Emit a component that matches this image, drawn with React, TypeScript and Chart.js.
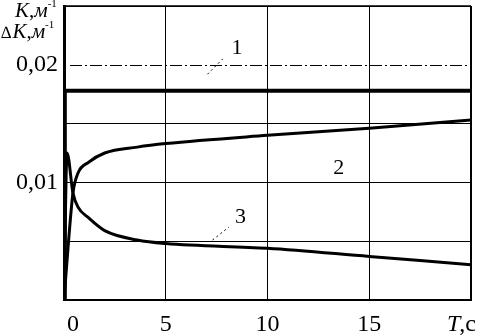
import React, { useEffect, useRef } from "react";
import { Chart, registerables } from "chart.js";

Chart.register(...registerables);

// Series 1: K (constant)
const t1 = [0, 0.04, 20];
const k1 = [0, 0.0178, 0.0178];
// Series 2: rising curve
const t2 = [0, 0.2, 0.44, 0.69, 1.2, 2.0, 3.6, 5, 10, 15, 20];
const k2 = [0, 0.0045, 0.0091, 0.0108, 0.0117, 0.0125, 0.013, 0.0133, 0.014, 0.0146, 0.0153];
// Series 3: falling curve
const t3 = [0, 0.15, 0.44, 0.69, 1.2, 2.0, 3.6, 5, 10, 15, 20];
const k3 = [0, 0.0125, 0.0091, 0.0079, 0.007, 0.0059, 0.0051, 0.0048, 0.0044, 0.0037, 0.003];

const xTickValues = [0, 5, 10, 15];
const xTickLabels = ["0", "5", "10", "15"];
const yTickValues = [0.01, 0.02];
const yTickLabels = ["0,01", "0,02"];

const curveLabels = ["1", "2", "3"];
const curveLabelT = [8.5, 13.5, 8.67];
const curveLabelK = [0.0214, 0.0112, 0.007];
const leaderT = [[7.05, 7.8], null, [7.3, 8.1]];
const leaderK = [[0.0192, 0.0205], null, [0.0051, 0.0062]];

const FONT = '"Liberation Serif", "Times New Roman", serif';

const near = (a: number, b: number) => Math.abs(a - b) < 1e-9;

const annoPlugin = {
  id: "anno",
  afterDraw(chart: any) {
    const { ctx, chartArea, scales } = chart;
    const x = scales.x;
    const y = scales.y;
    ctx.save();
    ctx.strokeStyle = "#000";
    ctx.fillStyle = "#000";
    // frame top and right
    ctx.lineWidth = 1.5;
    ctx.beginPath();
    ctx.moveTo(chartArea.left, chartArea.top);
    ctx.lineTo(chartArea.right, chartArea.top);
    ctx.stroke();
    ctx.lineWidth = 2;
    ctx.beginPath();
    ctx.moveTo(chartArea.right, chartArea.top);
    ctx.lineTo(chartArea.right, chartArea.bottom);
    ctx.stroke();
    // dashed 0.02 gridline
    const y02 = y.getPixelForValue(0.02);
    ctx.lineWidth = 1;
    ctx.setLineDash([12, 3, 2, 3]);
    ctx.beginPath();
    ctx.moveTo(chartArea.left + 6, Math.round(y02) + 0.5);
    ctx.lineTo(chartArea.right, Math.round(y02) + 0.5);
    ctx.stroke();
    ctx.setLineDash([]);

    // leader lines
    ctx.lineWidth = 1;
    ctx.setLineDash([2, 3]);
    leaderT.forEach((lt, i) => {
      const lk = leaderK[i];
      if (!lt || !lk) return;
      ctx.beginPath();
      ctx.moveTo(x.getPixelForValue(lt[0]), y.getPixelForValue(lk[0]));
      ctx.lineTo(x.getPixelForValue(lt[1]), y.getPixelForValue(lk[1]));
      ctx.stroke();
    });
    ctx.setLineDash([]);

    // curve labels
    ctx.font = `22px ${FONT}`;
    ctx.textAlign = "center";
    ctx.textBaseline = "middle";
    curveLabels.forEach((txt, i) => {
      ctx.fillText(txt, x.getPixelForValue(curveLabelT[i]), y.getPixelForValue(curveLabelK[i]));
    });

    // x tick labels
    ctx.font = `24px ${FONT}`;
    xTickValues.forEach((v, i) => {
      const px = x.getPixelForValue(v) + (v === 0 ? 9 : 0);
      ctx.fillText(xTickLabels[i], px, 325);
    });

    // y tick labels
    ctx.textAlign = "right";
    yTickValues.forEach((v, i) => {
      ctx.fillText(yTickLabels[i], chartArea.left - 6, y.getPixelForValue(v));
    });

    // x axis title "T,c"
    ctx.textAlign = "left";
    ctx.font = `italic 24px ${FONT}`;
    ctx.fillText("T", 447, 325);
    const wT = ctx.measureText("T").width;
    ctx.font = `24px ${FONT}`;
    ctx.fillText(",c", 447 + wT - 1, 325);

    // y axis title
    ctx.textBaseline = "alphabetic";
    const drawTitle = (prefix: string, x0: number, base: number) => {
      let cx = x0;
      if (prefix) {
        ctx.font = `17px ${FONT}`;
        ctx.fillText(prefix, cx, base);
        cx += ctx.measureText(prefix).width + 1;
      }
      ctx.font = `italic 21px ${FONT}`;
      ctx.fillText("K", cx, base);
      cx += ctx.measureText("K").width;
      ctx.font = `21px ${FONT}`;
      ctx.fillText(",", cx, base);
      cx += ctx.measureText(",").width;
      ctx.font = `italic 21px ${FONT}`;
      ctx.fillText("м", cx, base);
      cx += ctx.measureText("м").width;
      ctx.font = `11px ${FONT}`;
      ctx.fillText("-1", cx, base - 10);
    };
    drawTitle("", 15, 17);
    drawTitle("∆", 1, 38);
    ctx.restore();
  },
};

export default function App() {
  const ref = useRef<HTMLCanvasElement | null>(null);
  useEffect(() => {
    if (!ref.current) return;
    Chart.defaults.font.family = FONT;
    const mk = (ts: number[], ks: number[]) => ts.map((t, i) => ({ x: t, y: ks[i] }));
    const chart = new Chart(ref.current, {
      type: "line",
      data: {
        datasets: [
          { data: mk(t1, k1), borderColor: "#000", borderWidth: 4, pointRadius: 0, tension: 0 },
          { data: mk(t2, k2), borderColor: "#000", borderWidth: 3, pointRadius: 0, cubicInterpolationMode: "monotone" },
          { data: mk(t3, k3), borderColor: "#000", borderWidth: 3, pointRadius: 0, cubicInterpolationMode: "monotone" },
        ],
      },
      options: {
        responsive: false,
        animation: false,
        devicePixelRatio: 1,
        layout: { padding: { left: 0, top: 6, right: 7, bottom: 0 } },
        plugins: { legend: { display: false }, tooltip: { enabled: false }, title: { display: false } },
        scales: {
          x: {
            type: "linear",
            min: 0,
            max: 20,
            ticks: { stepSize: 5, display: false },
            grid: { color: "#000", lineWidth: 1, drawTicks: false },
            border: { display: true, color: "#000", width: 2 },
            afterFit: (s: any) => {
              s.height = 36;
            },
          },
          y: {
            type: "linear",
            min: 0,
            max: 0.025,
            ticks: { stepSize: 0.005, display: false },
            grid: {
              drawTicks: false,
              lineWidth: 1,
              color: (c: any) => (c.tick && near(c.tick.value, 0.02) ? "rgba(0,0,0,0)" : "#000"),
            },
            border: { display: true, color: "#000", width: 3 },
            afterFit: (s: any) => {
              s.width = 64;
            },
          },
        },
      },
      plugins: [annoPlugin],
    } as any);
    return () => chart.destroy();
  }, []);
  return (
    <canvas
      ref={ref}
      width={478}
      height={336}
      style={{ position: "absolute", left: 0, top: 0, width: 478, height: 336, background: "#fff" }}
    />
  );
}
